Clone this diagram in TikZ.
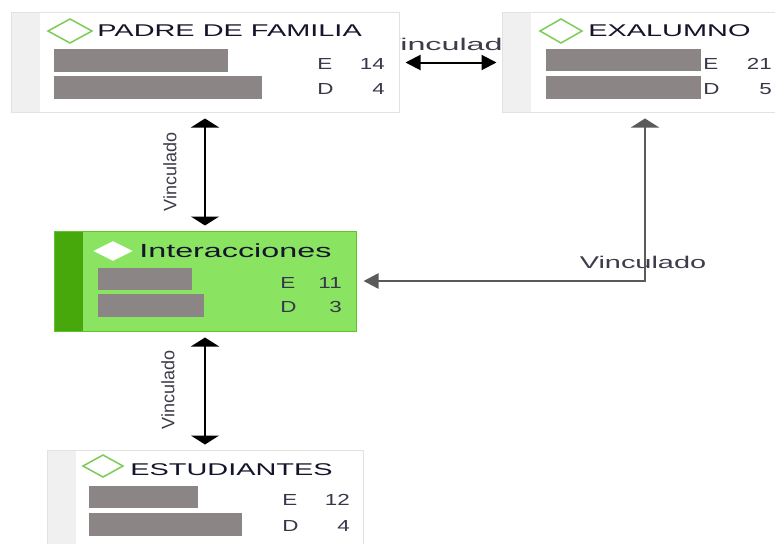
\documentclass[tikz,border=0pt]{standalone}
\usepackage{fontspec}
\setmainfont{Liberation Sans}
\usetikzlibrary{arrows.meta}

\definecolor{boxline}{HTML}{E2E2E2}
\definecolor{stripgray}{HTML}{F0F0F0}
\definecolor{gemgreen}{HTML}{7CCB55}
\definecolor{barfill}{HTML}{8B8585}
\definecolor{codefill}{HTML}{8AE462}
\definecolor{codedark}{HTML}{47A80C}
\definecolor{codeline}{HTML}{5EC42A}
\definecolor{inktext}{HTML}{14142A}
\definecolor{linktext}{HTML}{3C3C4A}
\definecolor{bendline}{HTML}{5A5A5A}

\tikzset{
  box/.style={draw=boxline, line width=1pt, fill=white, inner sep=0pt,
    path picture={\fill[stripgray] (path picture bounding box.north west)
      rectangle ([xshift=29pt]path picture bounding box.south west);}},
  codebox/.style={draw=codeline, line width=1pt, fill=codefill, inner sep=0pt,
    path picture={\fill[codedark] (path picture bounding box.north west)
      rectangle ([xshift=29pt]path picture bounding box.south west);}},
  gem/.style={draw=gemgreen, line width=1.5pt, line join=miter},
  bar/.style={fill=barfill},
  title/.style={anchor=base west, inner sep=0pt, text=inktext,
    font=\fontsize{17}{20}\selectfont, transform shape, xscale=1.7},
  count/.style={inner sep=0pt, text=inktext!85,
    font=\fontsize{16}{19}\selectfont, transform shape, xscale=1.4},
  linklabel/.style={inner sep=0pt, text=linktext,
    font=\fontsize{17}{20}\selectfont},
  vtip/.tip={Triangle[width=28pt, length=9pt]},
  htip/.tip={Triangle[width=15pt, length=15pt]},
  link/.style={line width=2pt},
}

\begin{document}
\begin{tikzpicture}[x=1pt, y=-1pt]
  \clip (0,0) rectangle (775,543);
  \fill[white] (0,0) rectangle (775,543);

  % labels sit behind the boxes
  \node[linklabel, transform shape, xscale=1.9] (lbltop) at (450,44) {Vinculado};
  \node[linklabel, font=\fontsize{18}{20}\selectfont, rotate=90] (lblup) at (170,172) {Vinculado};
  \node[linklabel, font=\fontsize{18}{20}\selectfont, rotate=90] (lbldown) at (168,390) {Vinculado};
  \node[linklabel, transform shape, xscale=1.7] (lblbend) at (643,262) {Vinculado};

  % PADRE DE FAMILIA
  \node[box, minimum width=388pt, minimum height=99pt] (padre) at (205,62.5) {};
  \draw[gem] (48,31) -- (70,19) -- (92,31) -- (70,43) -- cycle;
  \node[title] (padretitle) at (97,37) {PADRE DE FAMILIA};
  \fill[bar] (54,49) rectangle (228,72);
  \fill[bar] (54,76) rectangle (262,99);
  \node[count, anchor=base west] (padreE) at (317,70) {E};
  \node[count, anchor=base east] (padreEn) at (385,70) {14};
  \node[count, anchor=base west] (padreD) at (317,94) {D};
  \node[count, anchor=base east] (padreDn) at (385,94) {4};

  % EXALUMNO
  \node[box, minimum width=298pt, minimum height=99pt] (exalumno) at (651,62.5) {};
  \draw[gem] (540,31) -- (561,19) -- (582,31) -- (561,43) -- cycle;
  \node[title] (extitle) at (588,37) {EXALUMNO};
  \fill[bar] (546,49) rectangle (701,71);
  \fill[bar] (546,76) rectangle (701,99);
  \node[count, anchor=base west] (exE) at (703,70) {E};
  \node[count, anchor=base east] (exEn) at (772,70) {21};
  \node[count, anchor=base west] (exD) at (703,94) {D};
  \node[count, anchor=base east] (exDn) at (772,94) {5};

  % Interacciones
  \node[codebox, minimum width=302pt, minimum height=100pt] (interac) at (205,281) {};
  \draw[gem, draw=white, fill=white] (95,251) -- (113,242) -- (131,251) -- (113,260) -- cycle;
  \node[title, font=\fontsize{19}{22}\selectfont] (intertitle) at (139,257) {Interacciones};
  \fill[bar] (98,268) rectangle (192,290);
  \fill[bar] (98,294) rectangle (204,317);
  \node[count, anchor=base west] (interE) at (280,288) {E};
  \node[count, anchor=base east] (interEn) at (342,288) {11};
  \node[count, anchor=base west] (interD) at (280,312) {D};
  \node[count, anchor=base east] (interDn) at (342,312) {3};

  % ESTUDIANTES
  \node[box, minimum width=316pt, minimum height=104pt] (estud) at (205,502) {};
  \draw[gem] (83,466) -- (103,455) -- (123,466) -- (103,477) -- cycle;
  \node[title] (estitle) at (130,475) {ESTUDIANTES};
  \fill[bar] (89,486) rectangle (198,508);
  \fill[bar] (89,513) rectangle (242,536);
  \node[count, anchor=base west] (estE) at (282,505) {E};
  \node[count, anchor=base east] (estEn) at (350,505) {12};
  \node[count, anchor=base west] (estD) at (282,531) {D};
  \node[count, anchor=base east] (estDn) at (350,531) {4};

  % links
  \draw[link, {htip}-{htip}, shorten <=6pt, shorten >=5pt] (padre.east) -- (exalumno.west);
  \draw[link, {vtip}-{vtip}, shorten <=6pt, shorten >=5pt] (padre.south) -- (interac.north);
  \draw[link, {vtip}-{vtip}, shorten <=6pt, shorten >=5pt] (interac.south) -- (estud.north);
  \coordinate (bend) at (645,281);
  \draw[link, draw=bendline, line width=2.5pt, {vtip}-{htip}, shorten <=6pt, shorten >=7pt]
    (exalumno.south -| bend) |- (interac.east);
\end{tikzpicture}
\end{document}
